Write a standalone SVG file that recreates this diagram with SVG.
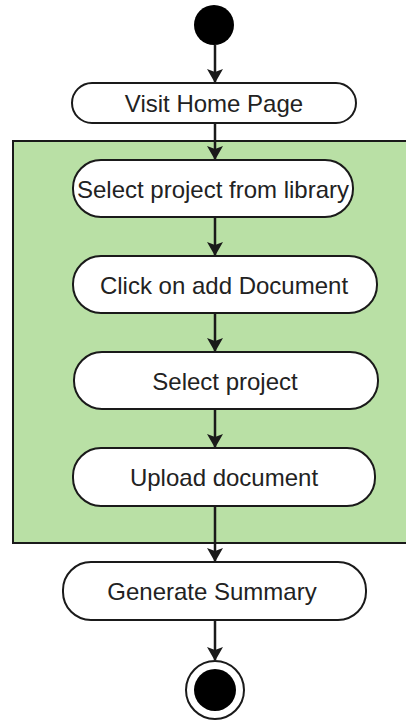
<svg xmlns="http://www.w3.org/2000/svg" width="406" height="723" viewBox="0 0 406 723">
<style>
.node{fill:#fff;stroke:#1a1a1a;stroke-width:2}
.lbl{font-family:"Liberation Sans",Arial,sans-serif;font-size:24px;fill:#222;text-anchor:middle;dominant-baseline:central}
.edge{stroke:#1a1a1a;stroke-width:2.5;fill:none;marker-end:url(#arr)}
</style>
<defs>
<marker id="arr" viewBox="0 0 14 16" refX="13" refY="8" markerWidth="14" markerHeight="16" markerUnits="userSpaceOnUse" orient="auto">
<path d="M0,0 L14,8 L0,16 L3,8 Z" fill="#1a1a1a"/>
</marker>
</defs>
<rect width="406" height="723" fill="#fff"/>
<g id="group">
<rect x="13" y="141" width="400" height="402" fill="#b9e0a5" stroke="#1a1a1a" stroke-width="2"/>
</g>
<g id="connectors">
<line class="edge" x1="215" y1="45" x2="215" y2="82"/>
<line class="edge" x1="215" y1="123" x2="215" y2="159"/>
<line class="edge" x1="215" y1="217" x2="215" y2="255"/>
<line class="edge" x1="215" y1="313" x2="215" y2="351"/>
<line class="edge" x1="215" y1="409" x2="215" y2="447"/>
<line class="edge" x1="215" y1="506" x2="215" y2="561"/>
<line class="edge" x1="215" y1="620" x2="215" y2="660"/>
</g>
<g id="start">
<circle cx="214" cy="25" r="20" fill="#000"/>
</g>
<g id="visit">
<rect class="node" x="72" y="83" width="284" height="40" rx="20"/>
<text class="lbl" x="214" y="103">Visit Home Page</text>
</g>
<g id="select-library">
<rect class="node" x="73" y="160" width="280" height="57" rx="28"/>
<text class="lbl" x="213" y="189">Select project from library</text>
</g>
<g id="click-add">
<rect class="node" x="73" y="256" width="304" height="57" rx="28"/>
<text class="lbl" x="224" y="285">Click on add Document</text>
</g>
<g id="select-project">
<rect class="node" x="74" y="352" width="304" height="57" rx="28"/>
<text class="lbl" x="225" y="381">Select project</text>
</g>
<g id="upload">
<rect class="node" x="73" y="448" width="302" height="58" rx="28"/>
<text class="lbl" x="224" y="477">Upload document</text>
</g>
<g id="generate">
<rect class="node" x="63" y="562" width="303" height="58" rx="28"/>
<text class="lbl" x="212" y="591">Generate Summary</text>
</g>
<g id="end">
<circle cx="215" cy="690" r="29" fill="#fff" stroke="#1a1a1a" stroke-width="2"/>
<circle cx="215" cy="690" r="21" fill="#000"/>
</g>
</svg>
